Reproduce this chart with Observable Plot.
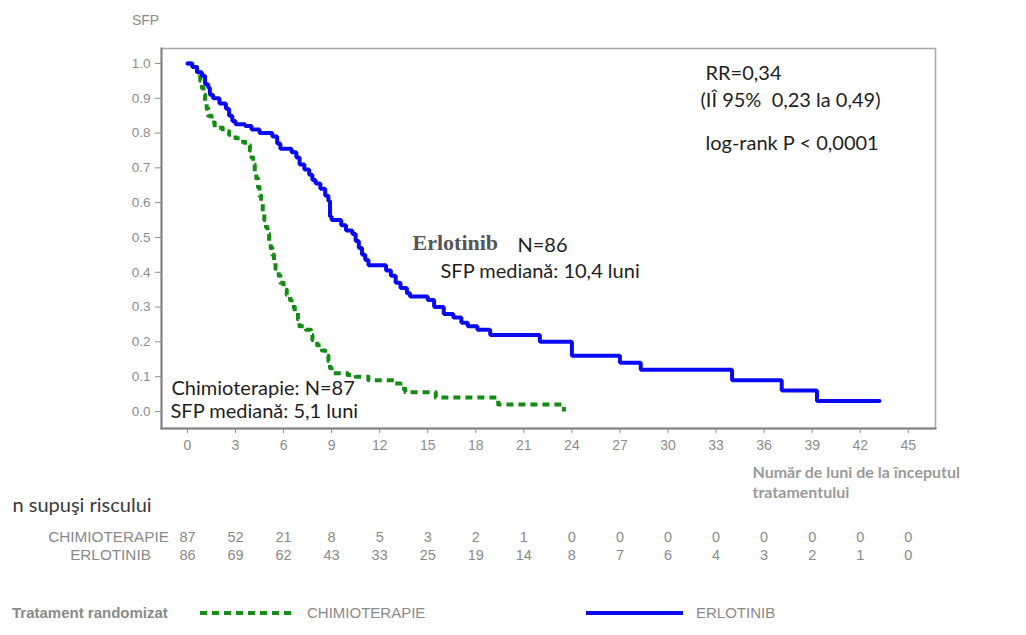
<!DOCTYPE html>
<html>
<head>
<meta charset="utf-8">
<script src="https://cdn.jsdelivr.net/npm/d3@7"></script>
<script src="https://cdn.jsdelivr.net/npm/@observablehq/plot@0.6"></script>
<style>
  body { margin: 0; background: #fff; }
  #chart { position: relative; width: 1026px; height: 635px; overflow: hidden; }
  #chart svg { display: block; }
  .legend { position: relative; width: 1026px; height: 55px; font-family: "Liberation Sans", Arial, sans-serif; color: #8a8a8a; }
  .legend .item { position: absolute; top: 24px; line-height: 18px; white-space: nowrap; }
  .legend .title { left: 12px; font-weight: bold; font-size: 15px; }
  .legend svg { position: absolute; top: 29px; }
  .legend .lab { font-size: 15px; }
</style>
</head>
<body>
<div id="chart"></div>
<script>
// Kaplan–Meier step values: month of each step and survival after it
const erlotinibMonths = [0, 0.3, 0.6, 0.9, 1.1, 1.3, 1.4, 1.6, 2.0, 2.4, 2.6, 2.8, 3.0, 3.6, 4.0, 4.5, 5.3, 5.6, 5.8, 6.5,
  6.8, 7.0, 7.3, 7.6, 7.8, 8.0, 8.3, 8.6, 8.8, 8.9, 9.0, 9.6, 9.9, 10.3, 10.5, 10.7, 10.9, 11.1, 11.3, 12.4,
  12.7, 13.0, 13.3, 13.7, 13.9, 15.0, 15.4, 16.0, 16.6, 17.1, 17.5, 18.1, 18.9, 22.0, 24.0, 27.0, 28.3, 34.0, 37.1, 39.3, 43.2];
const erlotinibSurvival = [1.00, 0.99, 0.975, 0.965, 0.94, 0.93, 0.91, 0.90, 0.885, 0.87, 0.85, 0.835, 0.825, 0.82, 0.81, 0.80, 0.79, 0.77, 0.755, 0.745,
  0.73, 0.71, 0.695, 0.68, 0.665, 0.655, 0.64, 0.62, 0.605, 0.56, 0.55, 0.535, 0.52, 0.51, 0.49, 0.47, 0.45, 0.435, 0.42, 0.405,
  0.39, 0.37, 0.355, 0.34, 0.33, 0.32, 0.30, 0.28, 0.27, 0.255, 0.245, 0.235, 0.22, 0.20, 0.16, 0.14, 0.12, 0.09, 0.06, 0.03, 0.03];

const chemoMonths = [0, 0.3, 0.6, 0.8, 0.9, 1.0, 1.1, 1.2, 1.3, 1.5, 1.7, 2.2, 2.6, 3.0, 3.3, 3.6, 3.9, 4.0, 4.1, 4.2,
  4.3, 4.4, 4.5, 4.6, 4.7, 4.8, 4.9, 5.0, 5.1, 5.2, 5.3, 5.4, 5.5, 5.7, 5.8, 6.0, 6.2, 6.4, 6.5, 6.7,
  6.9, 7.0, 7.4, 7.7, 7.8, 8.1, 8.4, 8.6, 8.8, 8.9, 9.0, 10.0, 10.5, 11.3, 12.9, 13.3, 13.6, 15.5, 19.4, 23.5];
const chemoSurvival = [1.0, 0.99, 0.97, 0.95, 0.93, 0.91, 0.89, 0.87, 0.85, 0.83, 0.815, 0.805, 0.795, 0.785, 0.775, 0.765, 0.75, 0.73, 0.71, 0.69,
  0.67, 0.645, 0.62, 0.60, 0.575, 0.55, 0.53, 0.51, 0.49, 0.47, 0.45, 0.43, 0.41, 0.39, 0.37, 0.35, 0.335, 0.32, 0.30, 0.285,
  0.265, 0.245, 0.235, 0.22, 0.205, 0.19, 0.175, 0.16, 0.145, 0.125, 0.11, 0.105, 0.10, 0.09, 0.08, 0.065, 0.055, 0.04, 0.02, 0.0];

// Axis ticks and the number-at-risk table
const tickMonths = [0, 3, 6, 9, 12, 15, 18, 21, 24, 27, 30, 33, 36, 39, 42, 45];
const survivalTicks = [0, 0.1, 0.2, 0.3, 0.4, 0.5, 0.6, 0.7, 0.8, 0.9, 1.0];
const atRiskChemo = [87, 52, 21, 8, 5, 3, 2, 1, 0, 0, 0, 0, 0, 0, 0, 0];
const atRiskErlotinib = [86, 69, 62, 43, 33, 25, 19, 14, 8, 7, 6, 4, 3, 2, 1, 0];

const erlotinib = erlotinibMonths.map((t, i) => ({t, s: erlotinibSurvival[i]}));
const chemo = chemoMonths.map((t, i) => ({t, s: chemoSurvival[i]}));
const riskRows = tickMonths.map((m, i) => ({m, chemo: atRiskChemo[i], erlo: atRiskErlotinib[i]}));

const BLUE = "#0a0af2";
const GREEN = "#148c14";
const GREY = "#8a8a8a";
const calibri = "Lato, 'Open Sans', sans-serif";
const arial = "'Liberation Sans', Arial, sans-serif";

// a single line of text placed relative to a corner of the frame
const label = (text, o) => Plot.text([text], {
  text: d => d, frameAnchor: "top-left", textAnchor: "start", lineAnchor: "middle",
  fontFamily: calibri, fontSize: 20, fill: "#1e1e1e", ...o
});
const below = (text, o) => label(text, {frameAnchor: "bottom-left", ...o});

const chart = Plot.plot({
  width: 1026,
  height: 580,
  marginTop: 48,
  marginBottom: 152,
  marginLeft: 161,
  marginRight: 91,
  x: {domain: [-1.62, 46.7]},
  y: {domain: [-0.049, 1.043]},
  style: {fontFamily: arial, background: "#fff", overflow: "visible"},
  marks: [
    Plot.frame({stroke: "#a8a8a8", strokeWidth: 1.5}),
    Plot.frame({anchor: "left", stroke: "#808080", strokeWidth: 2}),
    Plot.frame({anchor: "bottom", stroke: "#808080", strokeWidth: 2}),
    Plot.axisY({ticks: survivalTicks, tickFormat: d3.format(".1f"), tickSize: 6, tickPadding: 5,
      label: null, color: "#8c8c8c", fontSize: 13.5}),
    Plot.axisX({ticks: tickMonths, tickSize: 5, tickPadding: 7, label: null, color: "#8c8c8c", fontSize: 14}),

    // survival curves
    Plot.line(chemo, {x: "t", y: "s", curve: "step-after", stroke: GREEN, strokeWidth: 4,
      strokeDasharray: "7,5", strokeLinecap: "butt"}),
    Plot.line(erlotinib, {x: "t", y: "s", curve: "step-after", stroke: BLUE, strokeWidth: 4,
      strokeLinejoin: "miter"}),

    // y-axis title
    label("SFP", {dx: -16, dy: -28, textAnchor: "middle", fontFamily: arial, fill: GREY, fontSize: 14}),

    // statistics and group notes
    label("RR=0,34", {dx: 544, dy: 25}),
    label("(IÎ 95%\u00a0 0,23 la 0,49)", {dx: 539, dy: 52}),
    label("log-rank P < 0,0001", {dx: 544, dy: 95}),
    label("Erlotinib", {dx: 251, dy: 194, fontFamily: "'Liberation Serif', serif", fontWeight: "bold",
      fontSize: 22, fill: "#555"}),
    label("N=86", {dx: 356, dy: 197}),
    label("SFP mediană: 10,4 luni", {dx: 279, dy: 223}),
    label("Chimioterapie: N=87", {dx: 10, dy: 340}),
    label("SFP mediană: 5,1 luni", {dx: 9, dy: 363}),

    // x-axis title
    below("Număr de luni de la începutul", {dx: 591, dy: 44, fontWeight: "bold", fontSize: 16, fill: "#9a9a9a"}),
    below("tratamentului", {dx: 591, dy: 64, fontWeight: "bold", fontSize: 16, fill: "#9a9a9a"}),

    // number at risk
    below("n supuşi riscului", {dx: -149, dy: 77, fontSize: 20, fill: "#3a3a3a"}),
    below("CHIMIOTERAPIE", {dx: -53, dy: 109, textAnchor: "middle", fontFamily: arial, fontSize: 15.3, fill: GREY}),
    below("ERLOTINIB", {dx: -51, dy: 127, textAnchor: "middle", fontFamily: arial, fontSize: 15.3, fill: GREY}),
    Plot.text(riskRows, {x: "m", text: "chemo", frameAnchor: "bottom", dy: 109, lineAnchor: "middle",
      fill: GREY, fontSize: 14.5}),
    Plot.text(riskRows, {x: "m", text: "erlo", frameAnchor: "bottom", dy: 127, lineAnchor: "middle",
      fill: GREY, fontSize: 14.5})
  ]
});

const host = document.getElementById("chart");
host.appendChild(chart);

// legend row below the chart
const legend = document.createElement("div");
legend.className = "legend";
legend.innerHTML = `
  <div class="item title">Tratament randomizat</div>
  <svg width="100" height="8" style="left:200px"><line x1="0" y1="4" x2="95" y2="4" stroke="${GREEN}" stroke-width="4" stroke-dasharray="7,5"/></svg>
  <div class="item lab" style="left:307px">CHIMIOTERAPIE</div>
  <svg width="100" height="8" style="left:586px"><line x1="0" y1="4" x2="97" y2="4" stroke="${BLUE}" stroke-width="4"/></svg>
  <div class="item lab" style="left:696px">ERLOTINIB</div>`;
host.appendChild(legend);
</script>
</body>
</html>
